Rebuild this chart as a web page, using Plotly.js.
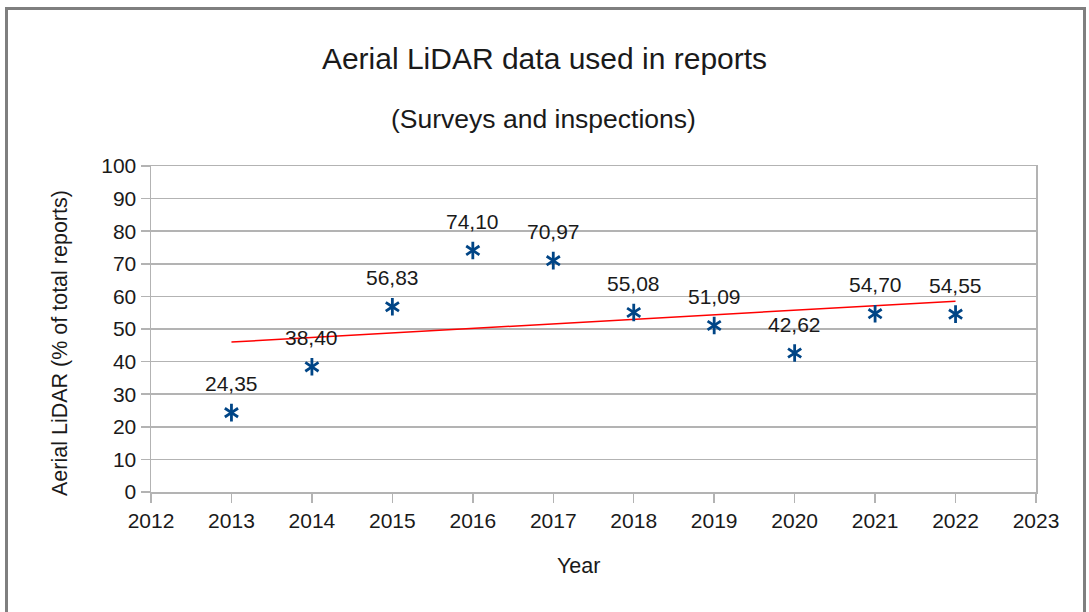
<!DOCTYPE html>
<html>
<head>
<meta charset="utf-8">
<script src="https://cdn.plot.ly/plotly-3.0.1.min.js"></script>
<style>
  html, body { margin: 0; padding: 0; background: #fff; overflow: hidden; }
  #chart { width: 1089px; height: 612px; position: absolute; left: 0; top: 0; }
  #frame { position: absolute; left: 5px; top: 7px; width: 1075px; height: 640px;
           border: 3px solid #7f7f7f; pointer-events: none; }
</style>
</head>
<body>
<div id="chart"></div>
<div id="frame"></div>
<script>
// Data
const years = [2013, 2014, 2015, 2016, 2017, 2018, 2019, 2020, 2021, 2022];
const lidarShare = [24.35, 38.40, 56.83, 74.10, 70.97, 55.08, 51.09, 42.62, 54.70, 54.55];

const chartTitle = 'Aerial LiDAR data used in reports';
const chartSubtitle = '(Surveys and inspections)';
const xTitle = 'Year';
const yTitle = 'Aerial LiDAR (% of total reports)';

// Linear trend line (least squares) from the data
const n = years.length;
const mx = years.reduce((a, b) => a + b, 0) / n;
const my = lidarShare.reduce((a, b) => a + b, 0) / n;
let sxy = 0, sxx = 0;
for (let i = 0; i < n; i++) { sxy += (years[i] - mx) * (lidarShare[i] - my); sxx += (years[i] - mx) ** 2; }
const slope = sxy / sxx;
const intercept = my - slope * mx;
const trendX = [years[0], years[n - 1]];
const trendY = trendX.map(x => intercept + slope * x);

const FONT = 'Liberation Sans, Arial, sans-serif';
const TXT = '#1a1a1a';
const GRID = '#b3b3b3';
const MARK = '#004586';

const fmt = v => v.toFixed(2).replace('.', ',');

const traces = [
  { x: trendX, y: trendY, type: 'scatter', mode: 'lines',
    line: { color: '#ff0000', width: 1.5 }, hoverinfo: 'skip', showlegend: false },
  { x: years, y: lidarShare, type: 'scatter', mode: 'markers',
    marker: { symbol: 'y-up-open', size: 11, color: MARK, line: { color: MARK, width: 2.8 } },
    showlegend: false },
  { x: years, y: lidarShare, type: 'scatter', mode: 'markers',
    marker: { symbol: 'y-down-open', size: 11, color: MARK, line: { color: MARK, width: 2.8 } },
    showlegend: false, hoverinfo: 'skip' }
];

const annotations = years.map((yr, i) => ({
  x: yr, y: lidarShare[i], xref: 'x', yref: 'y',
  text: fmt(lidarShare[i]), showarrow: false,
  yanchor: 'middle', xanchor: 'center', yshift: 29,
  font: { family: FONT, size: 21, color: TXT }
}));
annotations.push({
  x: 0.444, y: 1.145, xref: 'paper', yref: 'paper',
  text: chartSubtitle, showarrow: false, xanchor: 'center', yanchor: 'middle',
  font: { family: FONT, size: 26.5, color: TXT }
});
// Axis titles (placed as in the reference, slightly off the plot centre)
annotations.push({
  x: (578 - 151) / 885, y: (492 - 566) / 326, xref: 'paper', yref: 'paper',
  text: xTitle, showarrow: false, xanchor: 'center', yanchor: 'middle',
  font: { family: FONT, size: 21.5, color: TXT }
});
annotations.push({
  x: (60 - 151) / 885, y: (492 - 343) / 326, xref: 'paper', yref: 'paper',
  text: yTitle, showarrow: false, xanchor: 'center', yanchor: 'middle', textangle: -90,
  font: { family: FONT, size: 21.5, color: TXT }
});

const layout = {
  width: 1089, height: 612,
  margin: { l: 151, r: 53, t: 166, b: 120 },
  paper_bgcolor: '#ffffff', plot_bgcolor: '#ffffff',
  font: { family: FONT, size: 21, color: TXT },
  title: { text: chartTitle, x: 0.5, xref: 'container', xanchor: 'center',
           y: 1 - 58 / 612, yref: 'container', yanchor: 'middle',
           font: { family: FONT, size: 30, color: TXT } },
  xaxis: {
    range: [2012, 2023], dtick: 1, tick0: 2012, tickformat: 'd',
    showgrid: false, zeroline: false,
    showline: true, mirror: true, linecolor: GRID, linewidth: 1.5,
    ticks: 'outside', ticklen: 9, tickcolor: GRID, tickwidth: 1.5,
    tickfont: { family: FONT, size: 21, color: TXT }
  },
  yaxis: {
    range: [0, 100], dtick: 10,
    showgrid: true, gridcolor: GRID, gridwidth: 1.5, zeroline: false,
    showline: true, mirror: true, linecolor: GRID, linewidth: 1.5,
    ticks: 'outside', ticklen: 9, tickcolor: GRID, tickwidth: 1.5,
    tickfont: { family: FONT, size: 21, color: TXT }
  },
  annotations: annotations
};

Plotly.newPlot('chart', traces, layout, { displayModeBar: false, staticPlot: true });
</script>
</body>
</html>
